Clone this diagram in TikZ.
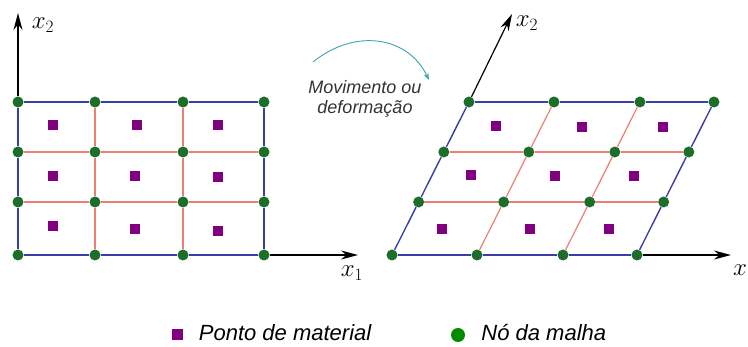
\documentclass[tikz,border=0pt]{standalone}
\usepackage{fontspec}
\setsansfont{Liberation Sans}
\usepackage{xcolor}
\usetikzlibrary{arrows.meta, positioning, calc}

\definecolor{meshblue}{RGB}{60,62,168}
\definecolor{meshpink}{RGB}{240,125,115}
\definecolor{nodegreen}{RGB}{28,110,40}
\definecolor{keygreen}{RGB}{0,140,0}
\definecolor{matpurple}{RGB}{128,0,128}
\definecolor{moveteal}{RGB}{60,165,170}

\begin{document}
\begin{tikzpicture}[x=1pt, y=-1pt, >={Stealth[length=17pt,width=9pt]}]
  \tikzstyle{meshnode} = [circle, fill=nodegreen, inner sep=0pt, minimum size=11pt]
  \tikzstyle{matpoint} = [rectangle, fill=matpurple, inner sep=0pt, minimum size=10pt]
  \tikzstyle{borderline} = [draw=meshblue, line width=1.4pt]
  \tikzstyle{innerline} = [draw=meshpink, line width=1.2pt]
  \tikzstyle{axis} = [->, draw=black, line width=1.2pt]
  \tikzstyle{axislabel} = [inner sep=0pt, font=\fontsize{24}{24}\selectfont]
  \tikzstyle{legend} = [inner sep=0pt, anchor=west, text height=16pt, text depth=5pt, font=\sffamily\itshape\fontsize{22}{24}\selectfont]

  \useasboundingbox (0,0) rectangle (748,347);

  % reference mesh (left) and deformed mesh (right)
  \foreach \y [count=\r] in {102,152,202,255}
    \foreach \x [count=\c] in {18,95,183,264}
      \node[meshnode] (L-\r-\c) at (\x,\y) {};
  \foreach \y [count=\r] in {102,152,202,255}
    \foreach \x [count=\c] in {392,477,563,637}
      \node[meshnode] (R-\r-\c) at ({\x+0.503*(255-\y)},\y) {};

  \foreach \g in {L,R} {
    \foreach \r in {2,3}
      \draw[innerline] (\g-\r-1) -- (\g-\r-2) -- (\g-\r-3) -- (\g-\r-4);
    \foreach \c in {2,3}
      \draw[innerline] (\g-1-\c) -- (\g-2-\c) -- (\g-3-\c) -- (\g-4-\c);
    \draw[borderline] (\g-1-1) -- (\g-1-2) -- (\g-1-3) -- (\g-1-4);
    \draw[borderline] (\g-4-1) -- (\g-4-2) -- (\g-4-3) -- (\g-4-4);
    \draw[borderline] (\g-1-1) -- (\g-2-1) -- (\g-3-1) -- (\g-4-1);
    \draw[borderline] (\g-1-4) -- (\g-2-4) -- (\g-3-4) -- (\g-4-4);
  }

  % material points
  \foreach \x/\y [count=\i] in {53/125,137/125,218/125,53/176,135/176,218/177,53/226,135/229,218/231}
    \node[matpoint] (LP-\i) at (\x,\y) {};
  \foreach \x/\y [count=\i] in {496/126,582/127,663/127,471/175,555/176,634/176,442/229,530/229,609/229}
    \node[matpoint] (RP-\i) at (\x,\y) {};

  % axes
  \coordinate (L-y) at (18,13);
  \coordinate (L-x) at (358,255);
  \coordinate (R-y) at (512,14);
  \coordinate (R-x) at (731,255);
  \draw[axis] (L-1-1) -- (L-y);
  \draw[axis] (L-4-4) -- (L-x);
  \draw[axis] (R-1-1) -- (R-y);
  \draw[axis] (R-4-4) -- (R-x);
  \node[axislabel] (L-y-lab) at (43,25) {$x_2$};
  \node[axislabel] (L-x-lab) at (352,273) {$x_1$};
  \node[axislabel] (R-y-lab) at (527,23) {$x_2$};
  \node[axislabel, anchor=west] (R-x-lab) at (733,270) {$x$};

  % motion arrow
  \coordinate (move-a) at (313,62);
  \coordinate (move-b) at (429,80);
  \draw[moveteal, line width=0.9pt, -{Stealth[length=7pt,width=5pt]}]
    (move-a) .. controls (355,28) and (408,36) .. (move-b);
  \node[align=center, text=black!80, font=\sffamily\itshape\fontsize{18}{20}\selectfont] (move) at (365,99) {Movimento ou\\deformação};

  % legend
  \node[matpoint, minimum size=11pt] (key-mat) at (177,335) {};
  \node[legend, right=16pt of key-mat] (key-mat-text) {Ponto de material};
  \node[circle, fill=keygreen, inner sep=0pt, minimum size=14pt] (key-node) at (458,335) {};
  \node[legend, right=16pt of key-node] (key-node-text) {Nó da malha};
\end{tikzpicture}
\end{document}
